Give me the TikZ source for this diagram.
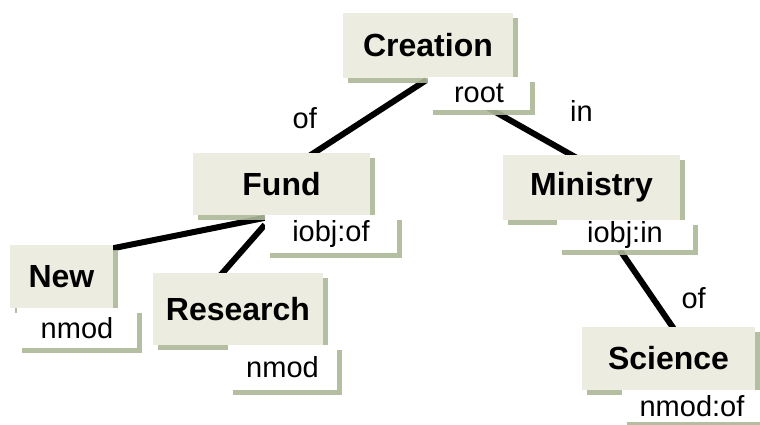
\documentclass[tikz,border=0pt]{standalone}
\usepackage{fontspec}
\setmainfont{Liberation Sans}
\usetikzlibrary{shadows,backgrounds,positioning}

\definecolor{wordbg}{RGB}{237,236,225}
\definecolor{shadowgreen}{RGB}{172,184,152}

\tikzset{
  word/.style 2 args={fill=wordbg, inner sep=0pt, minimum width=#1, minimum height=#2,
    font=\bfseries\fontsize{32}{34}\selectfont,
    drop shadow={shadow xshift=5pt, shadow yshift=-5pt, fill=shadowgreen, opacity=0.9}},
  rel/.style 2 args={fill=white, inner sep=0pt, minimum width=#1, minimum height=#2,
    font=\fontsize{29}{31}\selectfont,
    drop shadow={shadow xshift=5pt, shadow yshift=-5pt, fill=shadowgreen, opacity=0.9}},
  dep/.style={line width=6pt},
  elab/.style={font=\fontsize{29}{31}\selectfont}
}

\begin{document}
\begin{tikzpicture}[x=1pt,y=-1pt]
\useasboundingbox (0,0) rectangle (760,424);

% words and their relations
\node[word={170pt}{65pt}] (creation) at (428,45.5) {Creation};
\node[rel={102pt}{33pt}] (root) at (479,93.5) {root};

\node[word={177pt}{62pt}] (fund) at (281.5,184) {Fund};
\node[rel={132pt}{38pt}] (fundrel) at (331,234) {iobj:of};

\node[word={177pt}{65pt}] (ministry) at (591.5,187.5) {Ministry};
\node[rel={136pt}{30pt}] (ministryrel) at (625,235) {iobj:in};

\node[word={103pt}{63pt}] (new) at (61.5,276.5) {New};
\node[rel={120pt}{40pt}] (newrel) at (77,328) {nmod};

\node[word={170pt}{72pt}] (research) at (238,309) {Research};
\node[rel={109pt}{45pt}] (researchrel) at (282.5,367.5) {nmod};

\node[word={173pt}{63pt}] (science) at (668.5,358.5) {Science};
\node[rel={140pt}{32pt}] (sciencerel) at (692,406) {nmod:of};

% dependency edges
\begin{scope}[on background layer]
\draw[dep] ([xshift=-1pt,yshift=-3pt]root.north west) -- node[elab,left=45pt]{of} ([xshift=28pt,yshift=-3pt]fund.north);
\draw[dep] ([xshift=8pt,yshift=3pt]root.south) -- node[elab,above right=5pt and 32pt]{in} ([xshift=-15pt,yshift=-3pt]ministry.north);
\draw[dep] ([yshift=-3pt]fundrel.north west) -- ([xshift=-3pt,yshift=-4pt]new.north east);
\draw[dep] ([yshift=-10pt]fundrel.north west) -- ([xshift=-18pt,yshift=-3pt]research.north);
\draw[dep] ([xshift=-5pt]ministryrel.south) -- node[elab,right=28pt,yshift=-8pt]{of} ([xshift=6pt,yshift=-3pt]science.north);
\end{scope}
\end{tikzpicture}
\end{document}
